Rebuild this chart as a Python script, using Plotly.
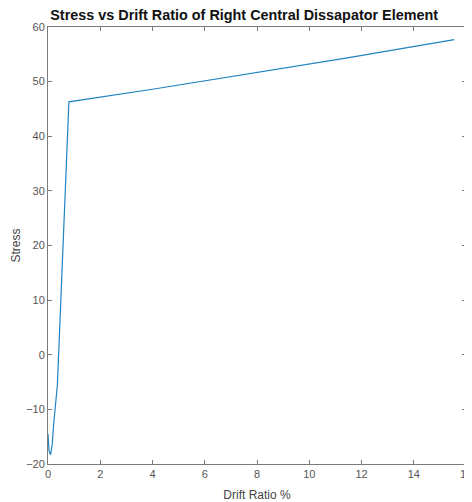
import plotly.graph_objects as go

drift_ratio = [0.0, 0.04, 0.1, 0.16, 0.22, 0.28, 0.36, 0.5, 0.65, 0.8,
               4.0, 7.3, 11.4, 15.55]
stress = [-14.5, -17.6, -18.3, -16.5, -12.5, -9.0, -5.5, 11.0, 28.5, 46.3,
          48.6, 51.1, 54.3, 57.7]

x_ticks = [0, 2, 4, 6, 8, 10, 12, 14, 16]
y_ticks = [-20, -10, 0, 10, 20, 30, 40, 50, 60]

fig = go.Figure()

fig.add_trace(go.Scatter(
    x=drift_ratio,
    y=stress,
    mode='lines',
    line=dict(color='#1f83c2', width=1.2),
    showlegend=False,
))

axis_common = dict(
    showgrid=False,
    zeroline=False,
    showline=True,
    linecolor='#7a7a7a',
    linewidth=1,
    mirror='ticks',
    ticks='inside',
    ticklen=4,
    tickcolor='#7a7a7a',
    automargin=False,
    ticklabeloverflow='allow',
    tickfont=dict(size=11, color='#555555', family='Liberation Sans'),
)

# page body has an 8px margin, so the figure is 8px smaller than the window
fig.update_layout(
    title=dict(
        text='<b>Stress vs Drift Ratio of Right Central Dissapator Element</b>',
        font=dict(size=14.4, color='#111111', family='Liberation Sans'),
        x=0.509,
        xanchor='center',
        xref='container',
        y=0.986,
        yanchor='middle',
        yref='container',
    ),
    xaxis=dict(
        range=[0, 16],
        tickvals=x_ticks,
        title=dict(text='Drift Ratio %', font=dict(size=12, color='#444444', family='Liberation Sans'),
                   standoff=11),
        **axis_common,
    ),
    yaxis=dict(
        range=[-20, 60],
        tickvals=y_ticks,
        title=dict(text='Stress', font=dict(size=12, color='#444444', family='Liberation Sans'),
                   standoff=2),
        **axis_common,
    ),
    paper_bgcolor='white',
    plot_bgcolor='white',
    width=464,
    height=494,
    margin=dict(l=40, r=6, t=19, b=38, autoexpand=False),
)

fig.write_html("out.html")
